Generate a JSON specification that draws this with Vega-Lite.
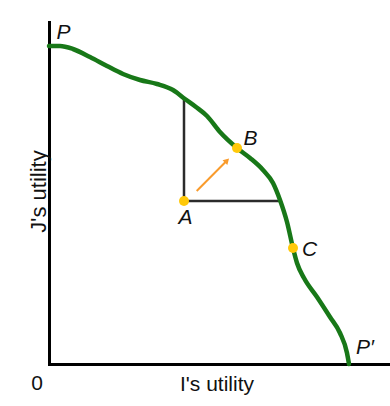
{
  "$schema": "https://vega.github.io/schema/vega-lite/v6.json",
  "autosize": "none",
  "width": 341,
  "height": 342,
  "padding": {"left": 49, "top": 22, "right": 0, "bottom": 42},
  "background": "white",
  "config": {
    "view": {"stroke": null},
    "font": "Liberation Sans",
    "axis": {
      "grid": false,
      "ticks": false,
      "tickSize": 0,
      "domainColor": "#000000",
      "domainWidth": 3,
      "domainCap": "square",
      "titleFont": "Liberation Sans",
      "titleFontWeight": "normal",
      "titleColor": "#111111",
      "labelFont": "Liberation Sans",
      "labelColor": "#111111"
    }
  },
  "datasets": {
    "frontier": [
      {"i": 0, "j": 318},
      {"i": 11, "j": 318},
      {"i": 24, "j": 315},
      {"i": 41, "j": 307},
      {"i": 58, "j": 298},
      {"i": 74, "j": 290},
      {"i": 91, "j": 284},
      {"i": 108, "j": 280},
      {"i": 124, "j": 274},
      {"i": 136, "j": 265},
      {"i": 147, "j": 257},
      {"i": 158, "j": 248},
      {"i": 171, "j": 232},
      {"i": 188, "j": 216},
      {"i": 201, "j": 206},
      {"i": 214, "j": 194},
      {"i": 224, "j": 181},
      {"i": 231, "j": 164},
      {"i": 238, "j": 142},
      {"i": 244, "j": 116},
      {"i": 248, "j": 101},
      {"i": 255, "j": 86},
      {"i": 268, "j": 67},
      {"i": 281, "j": 47},
      {"i": 291, "j": 31},
      {"i": 298, "j": 11},
      {"i": 300, "j": 0}
    ],
    "guides": [
      {"i": 135, "j": 163, "i2": 135, "j2": 264},
      {"i": 135, "j": 163, "i2": 231, "j2": 163}
    ],
    "move": [
      {"i": 147.7, "j": 173, "i2": 178, "j2": 203.5}
    ],
    "points": [
      {"name": "A", "i": 135, "j": 163},
      {"name": "B", "i": 188, "j": 216},
      {"name": "C", "i": 244, "j": 116}
    ],
    "labels": [
      {"text": "P", "i": 14.5, "j": 331.5},
      {"text": "A", "i": 136.5, "j": 146.5},
      {"text": "B", "i": 201.5, "j": 225.5},
      {"text": "C", "i": 260.5, "j": 114},
      {"text": "P′", "i": 316, "j": 16.5}
    ]
  },
  "layer": [
    {
      "data": {"name": "guides"},
      "mark": {"type": "rule", "color": "#2b2b2b", "strokeWidth": 2.5},
      "encoding": {
        "x": {
          "field": "i",
          "type": "quantitative",
          "scale": {"domain": [0, 341], "nice": false, "zero": false},
          "axis": {
            "values": [0],
            "labelExpr": "'0'",
            "labelFontSize": 21,
            "labelFlush": false,
            "labelAlign": "center",
            "labelBaseline": "middle",
            "labelOffset": -12.5,
            "labelPadding": 19,
            "title": "I's utility",
            "titleFontSize": 21,
            "titleBaseline": "middle",
            "titleX": 167.5,
            "titleY": 20
          }
        },
        "y": {
          "field": "j",
          "type": "quantitative",
          "scale": {"domain": [0, 342], "nice": false, "zero": false},
          "axis": {
            "labels": false,
            "title": "J's utility",
            "titleFontSize": 22,
            "titleBaseline": "middle",
            "titleAngle": -90,
            "titleX": -11,
            "titleY": 169
          }
        },
        "x2": {"field": "i2"},
        "y2": {"field": "j2"}
      }
    },
    {
      "data": {"name": "frontier"},
      "mark": {"type": "line", "color": "#187818", "strokeWidth": 4.5, "interpolate": "monotone", "strokeCap": "round"},
      "encoding": {
        "x": {"field": "i", "type": "quantitative"},
        "y": {"field": "j", "type": "quantitative"},
        "order": {"field": "i", "type": "quantitative"}
      }
    },
    {
      "data": {"name": "move"},
      "mark": {"type": "rule", "color": "#F99B2C", "strokeWidth": 2},
      "encoding": {
        "x": {"field": "i", "type": "quantitative"},
        "y": {"field": "j", "type": "quantitative"},
        "x2": {"field": "i2"},
        "y2": {"field": "j2"}
      }
    },
    {
      "data": {"name": "move"},
      "mark": {"type": "point", "shape": "triangle-up", "filled": true, "color": "#F99B2C", "size": 45, "opacity": 1},
      "encoding": {
        "x": {"field": "i2", "type": "quantitative"},
        "y": {"field": "j2", "type": "quantitative"},
        "angle": {"value": 45}
      }
    },
    {
      "data": {"name": "points"},
      "mark": {"type": "circle", "color": "#FFC90A", "size": 100, "opacity": 1},
      "encoding": {
        "x": {"field": "i", "type": "quantitative"},
        "y": {"field": "j", "type": "quantitative"}
      }
    },
    {
      "data": {"name": "labels"},
      "mark": {"type": "text", "fontSize": 21, "fontStyle": "italic", "font": "Liberation Sans", "align": "center", "baseline": "middle", "color": "#111111"},
      "encoding": {
        "x": {"field": "i", "type": "quantitative"},
        "y": {"field": "j", "type": "quantitative"},
        "text": {"field": "text"}
      }
    }
  ]
}
